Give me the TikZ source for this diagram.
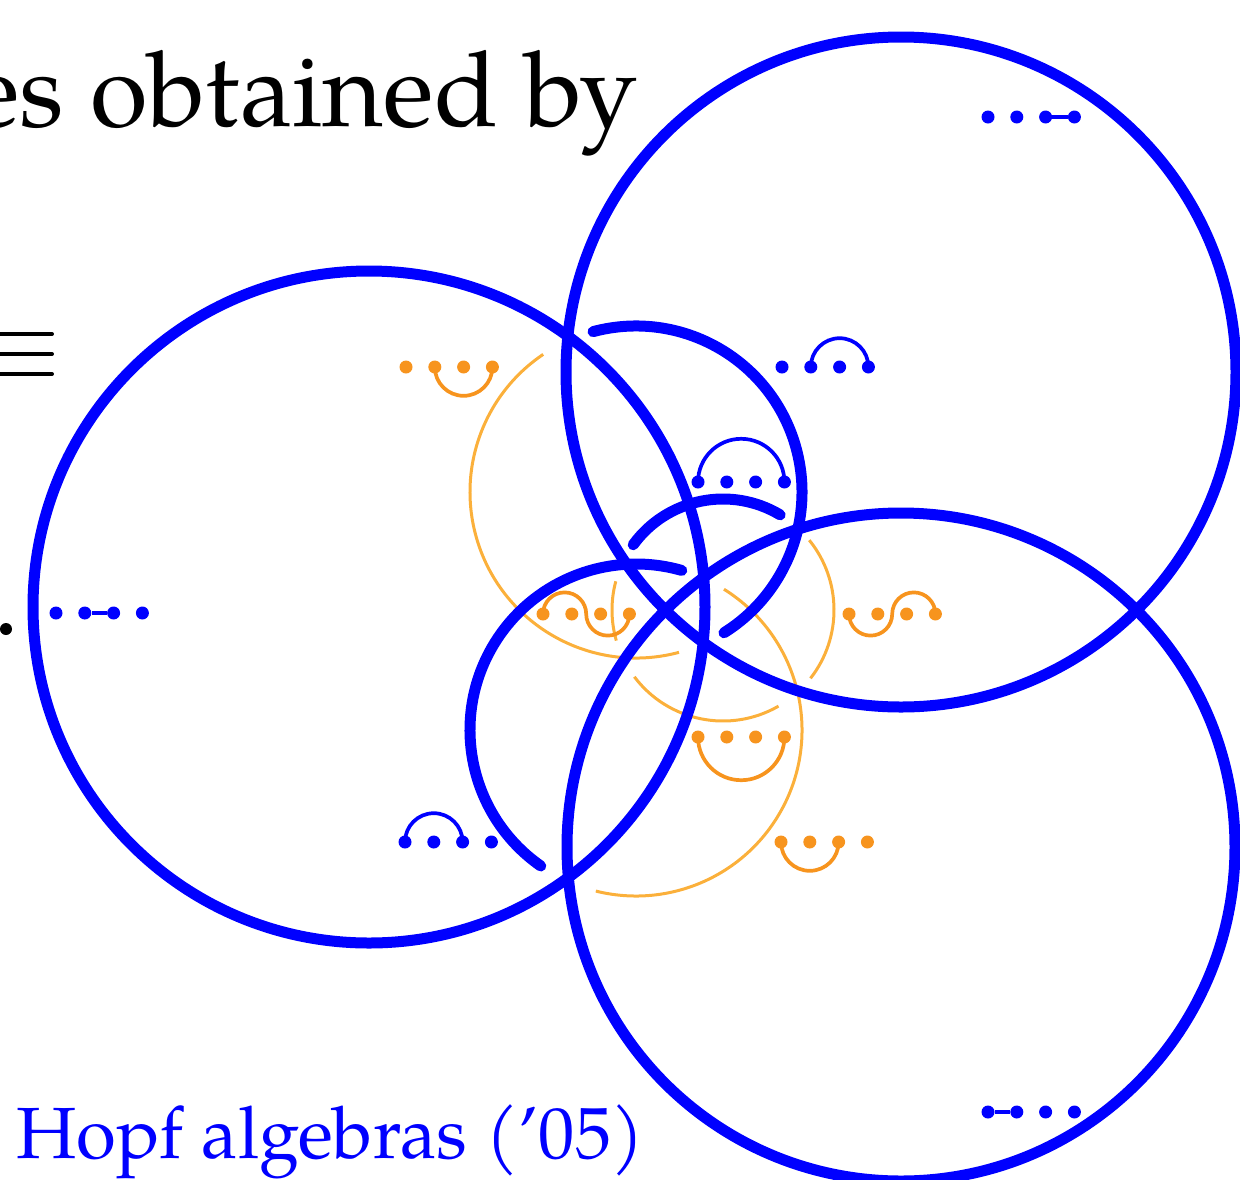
\documentclass[tikz,border=0pt]{standalone}
\usepackage{fontspec}
\setmainfont{TeX Gyre Pagella}
\definecolor{hblue}{RGB}{0,0,255}
\definecolor{odot}{RGB}{247,148,30}
\definecolor{oarc}{RGB}{251,176,59}
\newcommand\pdots[4]{\foreach \k in {1,2,3,4} {\node[#4] (#1\k) at ({#2+28.8*(\k-1)},#3) {};}}
\begin{document}
\begin{tikzpicture}[x=1pt,y=-1pt,
  bigc/.style={draw=hblue, line width=11pt},
  midc/.style={draw=hblue, line width=11pt, line cap=round},
  thinc/.style={draw=oarc, line width=3pt},
  bdot/.style={circle, fill=hblue, inner sep=0pt, minimum size=13pt},
  odotn/.style={circle, fill=odot, inner sep=0pt, minimum size=13pt},
  blink/.style={draw=hblue, line width=3.7pt},
  olink/.style={draw=odot, line width=3.7pt}]
\useasboundingbox (0,0) rectangle (1240,1179);
\clip (0,0) rectangle (1240,1179);

% circle centres
\coordinate (TR) at (901,372);
\coordinate (L) at (369,607);
\coordinate (BR) at (901,847);
\coordinate (A) at (636,492);
\coordinate (B) at (723,610);
\coordinate (C) at (636,730);

% texts on the left
\node[anchor=base east, inner sep=0pt, font=\fontsize{105}{110}\selectfont] (t1) at (638,126) {es obtained by};
\node[anchor=base west, inner sep=0pt, text=hblue, font=\fontsize{72.5}{78}\selectfont] (t2) at (16,1158) {Hopf algebras (’05)};
\draw[line width=4pt, line cap=round] (-20,334) -- (52,334) (-20,354) -- (52,354) (-20,374) -- (52,374);
\fill (6,629) circle[radius=6];

% orange (thin) arcs
\draw[thinc] (A) ++(75:166) arc[start angle=75, end angle=236, radius=166];
\draw[thinc] (C) ++(-58:166) arc[start angle=-58, end angle=104, radius=166];
\draw[thinc] (B) ++(-39:111) arc[start angle=-39, end angle=38, radius=111];
\draw[thinc] (B) ++(60:111) arc[start angle=60, end angle=143, radius=111];
\draw[thinc] (B) ++(164:111) arc[start angle=164, end angle=195, radius=111];

% orange partitions
\pdots{pg}{406}{367}{odotn}
\draw[olink] (pg2.center) arc[start angle=180, end angle=0, radius=28.8];
\pdots{ph}{543}{614}{odotn}
\draw[olink] (ph1.center) arc[start angle=180, end angle=360, radius=21.6] arc[start angle=180, end angle=0, radius=21.6];
\pdots{pi}{849}{614}{odotn}
\draw[olink] (pi1.center) arc[start angle=180, end angle=0, radius=21.6] arc[start angle=180, end angle=360, radius=21.6];
\pdots{pj}{698}{737}{odotn}
\draw[olink] (pj1.center) arc[start angle=180, end angle=0, radius=43.2];
\pdots{pk}{781}{842}{odotn}
\draw[olink] (pk1.center) arc[start angle=180, end angle=0, radius=28.8];

% blue middle arcs
\draw[midc] (A) ++(-105:166) arc[start angle=-105, end angle=58, radius=166];
\draw[midc] (C) ++(125:166) arc[start angle=125, end angle=286, radius=166];
\draw[midc] (B) ++(-144:111) arc[start angle=-144, end angle=-59, radius=111];

% big circles
\draw[bigc] (TR) circle[radius=335];
\draw[bigc] (L) circle[radius=336];
\draw[bigc] (BR) circle[radius=334];

% blue partitions
\pdots{pa}{56}{613}{bdot}
\draw[blink] (pa2) -- (pa3);
\pdots{pb}{988}{117}{bdot}
\draw[blink] (pb3) -- (pb4);
\pdots{pc}{988}{1112}{bdot}
\draw[blink] (pc1) -- (pc2);
\pdots{pd}{782}{367}{bdot}
\draw[blink] (pd2.center) arc[start angle=180, end angle=360, radius=28.8];
\pdots{pe}{405}{842}{bdot}
\draw[blink] (pe1.center) arc[start angle=180, end angle=360, radius=28.8];
\pdots{pf}{698}{482}{bdot}
\draw[blink] (pf1.center) arc[start angle=180, end angle=360, radius=43.2];
\end{tikzpicture}
\end{document}
